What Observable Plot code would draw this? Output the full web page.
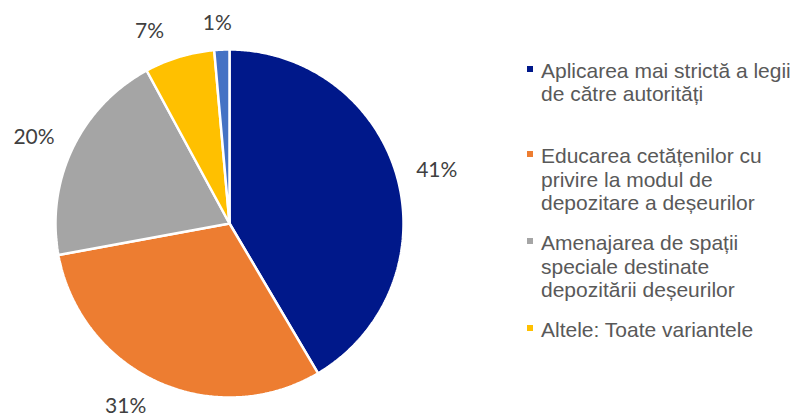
<!DOCTYPE html>
<html>
<head>
<meta charset="utf-8">
<script src="https://cdn.jsdelivr.net/npm/d3@7"></script>
<script src="https://cdn.jsdelivr.net/npm/@observablehq/plot@0.6"></script>
<style>
  html, body { margin: 0; padding: 0; background: #fff; }
  #wrap { position: relative; width: 795px; height: 418px; overflow: hidden; }
  .leg { position: absolute; left: 527px; font-family: "Liberation Sans", Arial, sans-serif; font-size: 21px; line-height: 23.5px; color: #595959; white-space: pre; }
  .leg .sw { position: absolute; left: 0; top: 7px; width: 6px; height: 6px; }
  .leg .tx { margin-left: 14px; }
</style>
</head>
<body>
<div id="wrap"></div>
<script>
// Data
const categories = [
  "Aplicarea mai strictă a legii\nde către autorități",
  "Educarea cetățenilor cu\nprivire la modul de\ndepozitare a deșeurilor",
  "Amenajarea de spații\nspeciale destinate\ndepozitării deșeurilor",
  "Altele: Toate variantele",
  "Altele"
];
const values = [41.5, 30.6, 20.0, 6.5, 1.4];
const valueLabels = ["41%", "31%", "20%", "7%", "1%"];
const colors = ["#00188a", "#ed7d31", "#a5a5a5", "#ffc000", "#4472c4"];
const legendCount = 4;

// Pie geometry (unit circle; scale is the same on both axes)
const R_PX = 174;
const total = d3.sum(values);
const slices = [];
const labelData = [];
let acc = 0;
values.forEach((v, i) => {
  const a0 = acc / total * 2 * Math.PI;
  acc += v;
  const a1 = acc / total * 2 * Math.PI;
  const n = Math.max(2, Math.ceil((a1 - a0) / (Math.PI / 360)));
  slices.push({cat: categories[i], x: 0, y: 0});
  for (let k = 0; k <= n; k++) {
    const a = a0 + (a1 - a0) * k / n;
    slices.push({cat: categories[i], x: Math.sin(a), y: Math.cos(a)});
  }
  // outside-end label: anchor just past the rim, then push the box outward
  const am = (a0 + a1) / 2;
  const s = Math.sin(am), c = Math.cos(am);
  const dxPx = Math.max(-26, Math.min(26, s * 90));
  const dyPx = c * 13;
  labelData.push({text: valueLabels[i], x: 1.08 * s + dxPx / R_PX, y: 1.08 * c + dyPx / R_PX});
});

const chart = Plot.plot({
  width: 795,
  height: 418,
  marginLeft: 55,
  marginRight: 392,
  marginTop: 49,
  marginBottom: 21,
  style: {fontFamily: "Lato, 'Noto Sans', sans-serif", background: "white"},
  x: {domain: [-1, 1], axis: null},
  y: {domain: [-1, 1], axis: null},
  color: {domain: categories, range: colors},
  marks: [
    Plot.line(slices, {x: "x", y: "y", z: "cat", fill: "cat", stroke: "white", strokeWidth: 2.5, strokeLinejoin: "miter", curve: "linear-closed"}),
    Plot.text(labelData, {x: "x", y: "y", text: "text", fontSize: 21, fill: "#404040"})
  ]
});

const wrap = document.getElementById("wrap");
wrap.appendChild(chart);

// Legend (first four categories, as in the reference)
const tops = [58.5, 144, 231, 318];
for (let i = 0; i < legendCount; i++) {
  const d = document.createElement("div");
  d.className = "leg";
  d.style.top = tops[i] + "px";
  const sw = document.createElement("span");
  sw.className = "sw";
  sw.style.background = colors[i];
  const tx = document.createElement("div");
  tx.className = "tx";
  tx.textContent = categories[i];
  d.appendChild(sw);
  d.appendChild(tx);
  wrap.appendChild(d);
}
</script>
</body>
</html>
